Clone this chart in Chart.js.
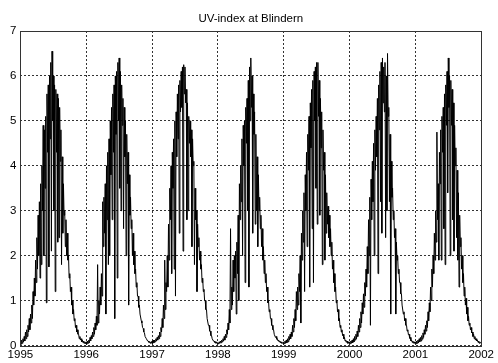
<!DOCTYPE html>
<html>
<head>
<meta charset="utf-8">
<script src="https://cdn.jsdelivr.net/npm/chart.js@4/dist/chart.umd.min.js"></script>
<style>
  html, body { margin: 0; padding: 0; background: #fff; }
  #wrap { width: 498px; height: 363px; }
</style>
</head>
<body>
<div id="wrap"><canvas id="uvChart"></canvas></div>
<script>
// UV-index at Blindern, weekly highs (clear days) and lows (overcast days)
const years = [1995, 1996, 1997, 1998, 1999, 2000, 2001];

const hi1995 = [0.08, 0.12, 0.15, 0.2, 0.3, 0.35, 0.45, 0.6, 0.7, 0.9, 1.2, 1.5, 1.9, 2.4, 2.9, 3.2, 3.6, 4.0,
  4.9, 4.8, 5.1, 5.6, 5.8, 6.0, 6.3, 6.55, 6.0, 5.8, 5.7, 5.6, 5.5, 5.3, 4.8, 4.2, 3.6, 3.0, 2.8, 2.5,
  2.0, 1.6, 1.3, 1.0, 0.8, 0.6, 0.45, 0.35, 0.25, 0.2, 0.15, 0.12, 0.1, 0.08];
const lo1995 = [0.03, 0.05, 0.08, 0.1, 0.15, 0.2, 0.3, 0.35, 0.5, 0.6, 0.9, 1.1, 1.4, 1.7, 2.0, 1.5, 1.8, 3.0,
  2.0, 3.5, 0.95, 4.3, 1.75, 4.6, 2.1, 5.0, 3.0, 1.2, 4.3, 2.3, 2.4, 4.1, 1.8, 2.5, 2.9, 2.2, 2.0, 1.9,
  1.5, 1.2, 0.9, 0.7, 0.55, 0.4, 0.3, 0.25, 0.15, 0.12, 0.08, 0.06, 0.05, 0.04];

const hi1996 = [0.08, 0.1, 0.12, 0.18, 0.22, 0.3, 0.4, 0.5, 0.65, 1.8, 1.0, 1.3, 1.6, 3.2, 3.3, 3.6, 4.0, 4.3,
  4.6, 5.0, 5.3, 5.6, 5.8, 6.0, 6.1, 6.3, 6.4, 6.1, 5.8, 5.5, 5.3, 5.0, 4.7, 4.3, 3.8, 3.3, 2.8, 2.5,
  2.1, 1.7, 1.4, 1.1, 0.9, 0.7, 0.5, 0.38, 0.28, 0.2, 0.15, 0.1, 0.08, 0.08];
const lo1996 = [0.03, 0.05, 0.06, 0.1, 0.15, 0.2, 0.25, 0.35, 0.45, 0.5, 0.7, 0.9, 1.1, 2.2, 2.5, 0.7, 2.8, 1.8,
  2.0, 3.8, 2.8, 4.3, 0.6, 4.7, 1.5, 5.0, 3.5, 3.0, 4.9, 2.6, 4.2, 2.0, 3.6, 0.9, 2.9, 2.6, 2.0, 1.8,
  1.6, 1.3, 1.1, 0.85, 0.7, 0.55, 0.4, 0.3, 0.2, 0.15, 0.1, 0.07, 0.05, 0.05];

const hi1997 = [0.1, 0.12, 0.12, 0.15, 0.18, 0.22, 0.3, 0.4, 0.6, 0.9, 1.9, 1.4, 2.0, 2.7, 3.5, 4.0, 4.3, 4.6,
  5.0, 5.2, 5.6, 5.8, 5.9, 6.1, 6.2, 6.25, 6.2, 5.7, 5.4, 5.1, 5.0, 4.8, 4.6, 4.1, 3.5, 3.0, 2.7, 2.4,
  2.1, 1.8, 1.5, 1.25, 1.0, 0.8, 0.6, 0.45, 0.32, 0.22, 0.15, 0.1, 0.08, 0.08];
const lo1997 = [0.05, 0.06, 0.08, 0.1, 0.12, 0.15, 0.2, 0.3, 0.4, 0.6, 0.8, 1.2, 1.3, 1.9, 2.8, 1.6, 3.5, 1.7,
  1.1, 4.2, 4.6, 2.5, 5.2, 5.3, 2.1, 5.6, 5.4, 2.8, 3.0, 4.5, 4.2, 2.2, 4.0, 1.8, 2.8, 1.2, 2.2, 1.9,
  1.7, 1.4, 1.2, 1.0, 0.8, 0.6, 0.45, 0.32, 0.22, 0.15, 0.1, 0.07, 0.05, 0.05];

const hi1998 = [0.06, 0.08, 0.1, 0.12, 0.15, 0.2, 0.25, 0.35, 0.5, 0.8, 2.6, 1.3, 1.9, 2.0, 2.1, 2.3, 2.9, 3.6,
  4.0, 4.6, 4.9, 5.0, 5.3, 5.5, 5.9, 6.2, 6.4, 6.0, 5.6, 5.2, 4.7, 4.2, 3.8, 3.3, 2.9, 2.6, 2.2, 1.9,
  1.6, 1.3, 1.0, 0.8, 0.6, 0.45, 0.35, 0.25, 0.2, 0.15, 0.12, 0.1, 0.08, 0.06];
const lo1998 = [0.03, 0.05, 0.06, 0.08, 0.1, 0.12, 0.18, 0.25, 0.35, 0.5, 0.8, 0.9, 1.2, 1.5, 0.7, 1.6, 1.0, 2.8,
  3.2, 2.0, 4.0, 1.4, 4.5, 3.0, 1.3, 5.0, 5.3, 2.5, 4.7, 2.7, 3.0, 2.2, 3.0, 2.6, 2.2, 1.9, 1.6, 1.4,
  1.2, 0.95, 0.75, 0.6, 0.45, 0.35, 0.25, 0.18, 0.14, 0.1, 0.08, 0.06, 0.05, 0.04];

const hi1999 = [0.08, 0.1, 0.12, 0.15, 0.2, 0.25, 0.3, 0.45, 0.6, 0.8, 1.2, 1.3, 1.6, 2.0, 2.5, 3.0, 3.4, 3.8,
  4.3, 4.7, 5.1, 5.4, 5.7, 5.9, 6.1, 6.2, 6.3, 6.3, 5.9, 5.5, 5.2, 4.8, 4.3, 3.8, 3.4, 3.1, 2.9, 2.6,
  2.3, 1.9, 1.6, 1.3, 1.0, 0.8, 0.6, 0.45, 0.35, 0.25, 0.18, 0.12, 0.1, 0.08];
const lo1999 = [0.04, 0.05, 0.06, 0.08, 0.12, 0.15, 0.2, 0.3, 0.4, 0.55, 0.8, 0.9, 1.2, 0.5, 1.9, 2.3, 1.2, 3.0,
  2.2, 3.9, 1.3, 4.4, 2.6, 1.4, 5.0, 3.5, 2.7, 5.1, 2.9, 4.4, 1.8, 3.9, 1.9, 2.5, 2.7, 2.4, 2.2, 2.0,
  1.7, 1.4, 1.2, 0.95, 0.75, 0.55, 0.4, 0.3, 0.22, 0.15, 0.1, 0.07, 0.05, 0.05];

const hi2000 = [0.08, 0.1, 0.12, 0.15, 0.2, 0.25, 0.32, 0.45, 0.6, 0.75, 0.95, 1.15, 1.4, 1.7, 2.2, 2.8, 3.3, 3.7,
  4.1, 4.5, 4.8, 5.1, 5.5, 5.8, 6.1, 6.3, 6.4, 6.2, 6.3, 6.0, 6.5, 5.3, 4.7, 4.1, 3.5, 3.0, 2.6, 2.3,
  2.0, 1.7, 1.4, 1.15, 0.9, 0.75, 0.6, 0.45, 0.35, 0.25, 0.18, 0.12, 0.1, 0.08];
const lo2000 = [0.04, 0.05, 0.06, 0.08, 0.12, 0.15, 0.2, 0.3, 0.4, 0.5, 0.7, 0.85, 1.1, 1.3, 1.6, 2.0, 0.45, 2.8,
  3.2, 2.0, 3.9, 4.2, 1.6, 4.8, 3.2, 2.5, 5.4, 5.2, 2.4, 3.0, 5.1, 3.2, 0.7, 3.3, 2.8, 2.4, 0.7, 1.9,
  1.6, 1.4, 1.15, 0.9, 0.7, 0.55, 0.45, 0.32, 0.24, 0.16, 0.1, 0.07, 0.05, 0.05];

const hi2001 = [0.08, 0.1, 0.12, 0.15, 0.18, 0.22, 0.28, 0.35, 0.45, 0.55, 0.75, 0.95, 1.3, 1.7, 2.0, 2.5, 3.0, 4.75,
  3.6, 4.3, 4.8, 5.1, 5.3, 5.6, 5.8, 6.1, 6.4, 6.0, 5.9, 5.7, 5.4, 4.9, 4.4, 3.9, 3.4, 2.9, 2.4, 2.0,
  1.6, 1.3, 1.05, 0.85, 0.65, 0.5, 0.4, 0.3, 0.25, 0.2, 0.15, 0.12, 0.1, 0.08];
const lo2001 = [0.04, 0.05, 0.06, 0.08, 0.1, 0.14, 0.18, 0.25, 0.32, 0.4, 0.55, 0.75, 1.0, 1.3, 1.6, 1.9, 2.3, 2.8,
  1.9, 3.6, 1.9, 4.3, 2.6, 1.8, 4.9, 3.4, 5.3, 2.0, 4.9, 2.8, 2.1, 4.0, 2.4, 1.9, 1.3, 2.2, 1.7, 1.4,
  1.1, 0.9, 0.7, 0.55, 0.45, 0.35, 0.28, 0.2, 0.15, 0.12, 0.1, 0.07, 0.05, 0.05];

const yTicks = [0, 1, 2, 3, 4, 5, 6, 7];

// each week: the high at its start, the low half a week later
const highs = [hi1995, hi1996, hi1997, hi1998, hi1999, hi2000, hi2001];
const lows = [lo1995, lo1996, lo1997, lo1998, lo1999, lo2000, lo2001];
const points = [];
years.forEach((yr, k) => {
  const n = highs[k].length;
  for (let i = 0; i < n; i++) {
    points.push({ x: yr + i / n, y: highs[k][i] });
    points.push({ x: yr + (i + 0.5) / n, y: lows[k][i] });
  }
});

const FONT = '"Liberation Sans", Arial, sans-serif';

// solid frame around the plot area plus the title centred over it
const frame = {
  id: 'frame',
  afterDraw(chart) {
    const { ctx, chartArea: a } = chart;
    ctx.save();
    ctx.strokeStyle = '#333';
    ctx.lineWidth = 1;
    ctx.strokeRect(Math.round(a.left) + 0.5, Math.round(a.top) + 0.5,
      Math.round(a.right - a.left), Math.round(a.bottom - a.top));
    ctx.fillStyle = '#000';
    ctx.font = '11.5px ' + FONT;
    ctx.textAlign = 'center';
    ctx.textBaseline = 'middle';
    ctx.fillText('UV-index at Blindern', (a.left + a.right) / 2, 19);
    ctx.restore();
  }
};

Chart.defaults.font.family = FONT;
Chart.defaults.color = '#000';

new Chart(document.getElementById('uvChart').getContext('2d'), {
  type: 'line',
  data: {
    datasets: [{
      label: 'UV-index',
      data: points,
      borderColor: '#000',
      borderWidth: 1,
      pointRadius: 0,
      tension: 0,
      fill: false
    }]
  },
  options: {
    responsive: true,
    maintainAspectRatio: false,
    animation: false,
    layout: { padding: { left: 6, right: 14, top: 31, bottom: -2 } },
    plugins: {
      legend: { display: false },
      tooltip: { enabled: false },
      title: { display: false }
    },
    scales: {
      x: {
        type: 'linear',
        min: years[0],
        max: years[years.length - 1] + 1,
        ticks: { stepSize: 1, padding: 4, font: { size: 11.5, lineHeight: 1 }, callback: v => String(v), maxRotation: 0 },
        grid: { color: '#333', drawTicks: false },
        border: { display: false, dash: [2, 2] }
      },
      y: {
        min: yTicks[0],
        max: yTicks[yTicks.length - 1],
        afterBuildTicks: axis => { axis.ticks = yTicks.map(v => ({ value: v })); },
        ticks: { padding: 4, font: { size: 11.5 } },
        grid: { color: '#333', drawTicks: false },
        border: { display: false, dash: [2, 2] }
      }
    }
  },
  plugins: [frame]
});
</script>
</body>
</html>
